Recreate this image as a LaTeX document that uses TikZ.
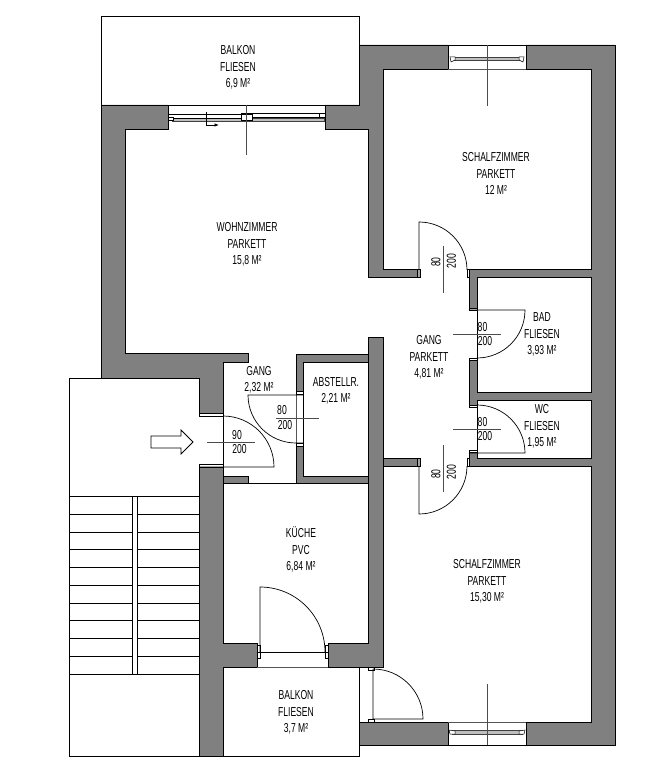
\documentclass[tikz,border=0pt]{standalone}
\usepackage{fontspec}
\usetikzlibrary{arrows.meta}
\setmainfont{Liberation Sans}[FakeStretch=0.66]
\definecolor{wallgray}{HTML}{808080}
\definecolor{linegray}{HTML}{555555}
\tikzset{
  wall/.style={fill=wallgray,draw=black,line width=0.8pt,line join=miter},
  ln/.style={draw=black,line width=0.8pt},
  thin ln/.style={draw=linegray,line width=0.7pt},
  dim/.style={draw=black!70,line width=0.8pt},
  swing/.style={draw=black,line width=0.7pt},
  jamb/.style={fill=white,draw=black,line width=0.5pt},
  sash/.style={fill=white,draw=black,line width=0.5pt},
  band/.style={fill=black!25,draw=black!75,line width=0.6pt},
  roomlabel/.style={align=center,inner sep=0pt,font=\fontsize{13}{16.3}\selectfont},
  doorlabel/.style={inner sep=0pt,font=\fontsize{13}{14}\selectfont},
}
\begin{document}
\begin{tikzpicture}[x=1pt,y=-1pt]
\useasboundingbox (0,0) rectangle (651,775);
% balconies and stair outline
\draw[ln] (101,105) -- (101,16) -- (359,16) -- (359,105) -- cycle;
\draw[ln] (223,667) -- (359,667) -- (359,756) -- (223,756);
\draw[ln] (199,378) -- (69,378) -- (69,756) -- (199,756);
% stair
\foreach \yy in {496,514,532,549,567,585,603,620,638,656,674}
  \draw[ln] (69,\yy) -- (199,\yy);
\path[fill=white] (132.5,497) rectangle (137,673);
\draw[ln] (132,496) -- (132,674);
\draw[ln] (137.5,496) -- (137.5,674);
% walls
\path[wall] (101,105) -- (168,105) -- (168,129) -- (125,129) -- (125,353) -- (248,353) -- (248,362) -- (223,362) -- (223,413) -- (199,413) -- (199,378) -- (101,378) -- cycle;
\path[wall] (199,467) -- (223,467) -- (223,643) -- (257,643) -- (257,667) -- (223,667) -- (223,756) -- (199,756) -- cycle;
\path[wall] (223,476) rectangle (248,483);
\path[wall] (325,105) -- (359,105) -- (359,45) -- (448,45) -- (448,69) -- (383,69) -- (383,269) -- (417,269) -- (417,277) -- (368,277) -- (368,129) -- (325,129) -- cycle;
\path[wall] (526,45) -- (615,45) -- (615,745) -- (526,745) -- (526,722) -- (591,722) -- (591,466) -- (469,466) -- (469,452) -- (477,452) -- (477,458) -- (591,458) -- (591,400) -- (477,400) -- (477,405) -- (469,405) -- (469,358) -- (477,358) -- (477,392) -- (591,392) -- (591,277) -- (477,277) -- (477,308) -- (469,308) -- (469,269) -- (591,269) -- (591,69) -- (526,69) -- cycle;
\path[wall] (328,643) -- (368,643) -- (368,337) -- (383,337) -- (383,667) -- (328,667) -- cycle;
\path[wall] (383,458) rectangle (417,466);
\path[wall] (296,393) -- (296,354) -- (368,354) -- (368,362) -- (303,362) -- (303,393) -- cycle;
\path[wall] (296,445) -- (303,445) -- (303,476) -- (368,476) -- (368,483) -- (296,483) -- cycle;
\path[wall] (359,722) rectangle (448,745);
% plain lines
\draw[ln] (223,362) -- (223,476);
\draw[ln] (248,483) -- (296,483);
\draw[ln] (168,105) -- (325,105);
\draw[thin ln] (257,667) -- (328,667);
\draw[thin ln] (296,393) -- (296,445);
\draw[ln] (303,393) -- (303,445);
\draw[ln] (448,45) -- (526,45);
\draw[ln] (448,45) -- (448,69);
\draw[ln] (526,45) -- (526,69);
\draw[thin ln] (448,69) -- (526,69);
\draw[ln] (448,745) -- (526,745);
\draw[ln] (448,722) -- (448,745);
\draw[ln] (526,722) -- (526,745);
\draw[thin ln] (448,722) -- (526,722);
\draw[ln] (168,105) -- (168,129);
\draw[ln] (325,105) -- (325,129);
\draw[ln] (257,643) -- (257,667);
\draw[ln] (328,643) -- (328,667);
% top-left window
\path[band] (172,118) rectangle (324,121);
\path[sash] (168,114) rectangle (241,118);
\path[sash] (241,113) rectangle (324,117);
\path[sash] (168,117) rectangle (173,120);
\path[sash] (241,114) rectangle (252,120);
\path[sash] (319,113) rectangle (325,117);
% top-right window
\path[band] (452,57.5) rectangle (522,60.5);
\path[sash] (450,57) -- (455,57) -- (455,60) -- (451,62) -- cycle;
\path[sash] (519,57) -- (524,57) -- (523,62) -- (519,60) -- cycle;
% bottom window
\path[band] (452,730) rectangle (522,734);
\path[sash] (449,730) -- (455,731) -- (455,734) -- (450,734) -- cycle;
\path[sash] (519,731) -- (525,730) -- (524,734) -- (519,734) -- cycle;
% window section lines
\draw[dim] (246,105) -- (246,155);
\draw[dim] (487,45) -- (487,106);
\draw[dim] (487,684) -- (487,745);
% sliding mark
\draw[ln,line width=0.7pt,-{Latex[length=4.5pt,width=3.5pt]}] (206,112) -- (206,125) -- (219,125);
% entrance arrow
\draw[ln] (151,436) -- (181,436) -- (181,430) -- (193,442) -- (181,454) -- (181,448) -- (151,448) -- cycle;
% door: upper bedroom
\path[jamb] (417,269) rectangle (420,277);
\path[jamb] (467,269) rectangle (469,277);
\draw[swing] (419,277) -- (419,222) arc[start angle=-90,end angle=0,radius=48] ;
\draw[dim] (443,246) -- (443,293);
% door: bath
\path[jamb] (469,308) rectangle (477,310);
\path[jamb] (469,358) rectangle (477,360);
\draw[swing] (477,308) -- (477,358);
\draw[swing] (469,310) -- (525,310) arc[start angle=0,end angle=90,radius=48];
\draw[dim] (453,334) -- (501,334);
% door: WC
\path[jamb] (469,405) rectangle (477,407);
\path[jamb] (469,450) rectangle (477,452);
\draw[swing] (477,405) -- (477,452);
\draw[swing] (477,405) arc[start angle=-90,end angle=0,radius=48] -- (469,453);
\draw[dim] (453,429) -- (501,429);
% door: lower bedroom
\path[jamb] (417,458) rectangle (420,466);
\path[jamb] (467,458) rectangle (469,466);
\draw[swing] (419,458) -- (419,514) arc[start angle=90,end angle=0,radius=48];
\draw[dim] (443,445) -- (443,492);
% door: store room
\path[jamb] (296,391) rectangle (303,394);
\path[jamb] (296,443) rectangle (303,446);
\draw[swing] (303,395) -- (248,395) arc[start angle=180,end angle=90,radius=48] -- (303,443);
\draw[dim] (276,418) -- (319,418);
% door: entrance
\path[jamb] (199,413) rectangle (223,416);
\path[jamb] (199,464) rectangle (223,467);
\draw[swing] (223,416) arc[start angle=-90,end angle=0,radius=51] -- (199,467);
\draw[dim] (207,442) -- (255,442);
% door: kitchen balcony
\path[jamb] (257,645) rectangle (260,658);
\path[jamb] (325,645) rectangle (328,658);
\draw[swing] (257,652) -- (328,652);
\draw[swing] (260,652) -- (260,587) arc[start angle=-90,end angle=0,radius=65];
% door: small balcony
\path[jamb] (368,667) rectangle (374,670);
\path[jamb] (368,719) rectangle (374,722);
\draw[swing] (373,669) -- (373,719) -- (423,719) arc[start angle=0,end angle=-90,radius=50];
% door dimensions
\node[doorlabel,rotate=90] (d1a) at (436,262) {80};
\node[doorlabel,rotate=90] (d1b) at (451.5,261) {200};
\node[doorlabel] (d2a) at (482.5,327) {80};
\node[doorlabel] (d2b) at (485,341) {200};
\node[doorlabel] (d3a) at (482.5,422) {80};
\node[doorlabel] (d3b) at (485,436) {200};
\node[doorlabel,rotate=90] (d4a) at (436,474) {80};
\node[doorlabel,rotate=90] (d4b) at (451.5,472) {200};
\node[doorlabel] (d5a) at (282,410) {80};
\node[doorlabel] (d5b) at (285,425) {200};
\node[doorlabel] (d6a) at (237,435) {90};
\node[doorlabel] (d6b) at (239.5,449) {200};
% room labels
\node[roomlabel] (r1) at (238,67.5) {BALKON\\FLIESEN\\6,9 M²};
\node[roomlabel] (r2) at (496,173.5) {SCHALFZIMMER\\PARKETT\\12 M²};
\node[roomlabel] (r3) at (247,244.5) {WOHNZIMMER\\PARKETT\\15,8 M²};
\node[roomlabel] (r4) at (259,379.5) {GANG\\2,32 M²};
\node[roomlabel] (r5) at (336,390.5) {ABSTELLR.\\2,21 M²};
\node[roomlabel] (r6) at (429,357.5) {GANG\\PARKETT\\4,81 M²};
\node[roomlabel] (r7) at (542,334.5) {BAD\\FLIESEN\\3,93 M²};
\node[roomlabel] (r8) at (542,426.5) {WC\\FLIESEN\\1,95 M²};
\node[roomlabel] (r9) at (301,549.5) {KÜCHE\\PVC\\6,84 M²};
\node[roomlabel] (r10) at (487,581.5) {SCHALFZIMMER\\PARKETT\\15,30 M²};
\node[roomlabel] (r11) at (296,712.5) {BALKON\\FLIESEN\\3,7 M²};
\end{tikzpicture}
\end{document}
